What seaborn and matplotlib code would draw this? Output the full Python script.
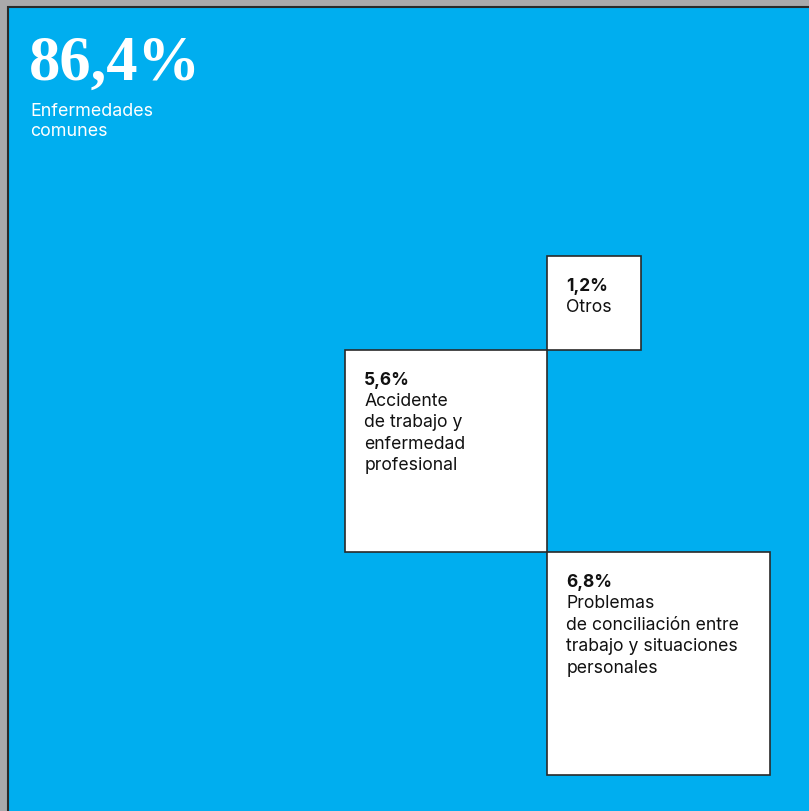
import numpy as np
import matplotlib
matplotlib.use("Agg")
import matplotlib.pyplot as plt
import seaborn as sns

# ---------------------------------------------------------------------------
# Data
# ---------------------------------------------------------------------------
MAIN_VALUE = "86,4%"
MAIN_LABEL = "Enfermedades\ncomunes"

BOX_KEYS = ["otros", "accidente", "conciliacion"]
BOX_VALUES = [1.2, 5.6, 6.8]
BOX_PCT = ["1,2%", "5,6%", "6,8%"]
BOX_LABELS = [
    "Otros",
    "Accidente\nde trabajo y\nenfermedad\nprofesional",
    "Problemas\nde conciliación entre\ntrabajo y situaciones\npersonales",
]

# ---------------------------------------------------------------------------
# Style
# ---------------------------------------------------------------------------
W, H = 809, 811
BLUE = "#00aeef"
GREY = "#a9a9ab"
EDGE = "#2a2a2a"
K = 85.5            # pixels per sqrt(percent): square area ~ value
PIVOT = (547, 350)  # shared corner of "otros" and "accidente"

sns.set_theme(style="white")
plt.rcParams["font.family"] = ["Inter", "DejaVu Sans"]

fig = plt.figure(figsize=(W / 100, H / 100), dpi=100, facecolor=GREY)
ax = fig.add_axes([0, 0, 1, 1])
ax.set_xlim(0, W)
ax.set_ylim(H, 0)
ax.set_facecolor(GREY)
ax.axis("off")

# big blue field
ax.bar(8, H + 20, width=W + 20, bottom=7, align="edge", color=BLUE,
       edgecolor=EDGE, linewidth=1.5)

ax.text(29, 80, MAIN_VALUE, family=["Liberation Serif", "DejaVu Serif"],
        fontsize=45, fontweight="bold", color="white", va="baseline",
        ha="left")
ax.text(30, 103, MAIN_LABEL, fontsize=12.9, color="white", va="top",
        ha="left", linespacing=1.26)

# square sides from values
sides = {k: K * np.sqrt(v) for k, v in zip(BOX_KEYS, BOX_VALUES)}
px, py = PIVOT
pos = {
    "accidente": (px - sides["accidente"], py),
    "otros": (px, py - sides["otros"]),
    "conciliacion": (px, py + sides["accidente"]),
}

for key, pct, lab in zip(BOX_KEYS, BOX_PCT, BOX_LABELS):
    s = sides[key]
    x0, y0 = pos[key]
    ax.bar(x0, s, width=s, bottom=y0, align="edge", color="white",
           edgecolor=EDGE, linewidth=1.2, zorder=3)
    ax.text(x0 + 19.5, y0 + 22, pct, fontsize=12.5, fontweight="bold",
            color="#111111", va="top", ha="left", zorder=4)
    ax.text(x0 + 19.5, y0 + 43, lab, fontsize=12.7, color="#111111",
            va="top", ha="left", linespacing=1.34, zorder=4)

fig.savefig("out.png", dpi=100, facecolor=GREY)
plt.close(fig)
